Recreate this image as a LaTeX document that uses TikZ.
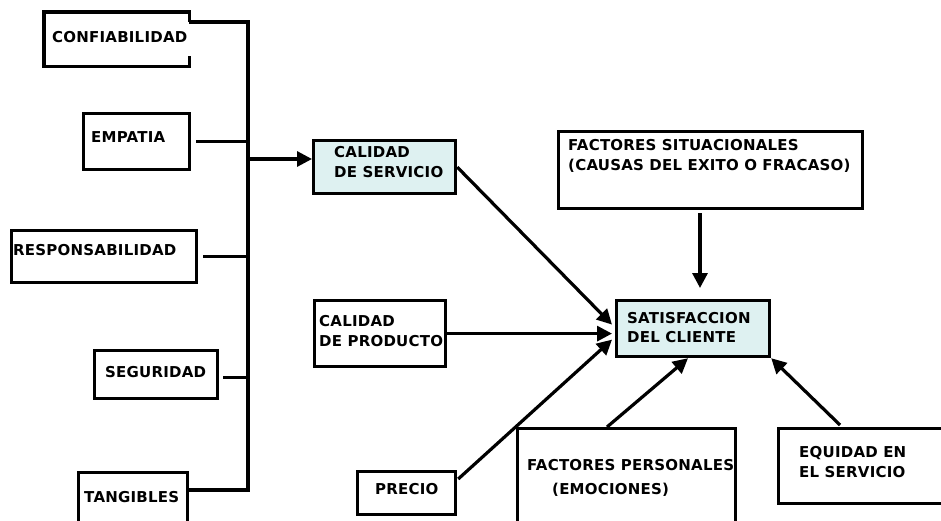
\documentclass[tikz,border=0pt]{standalone}
\usepackage{fontspec}
\newfontfamily\dfont{DejaVu Sans}[LetterSpace=1.5]
\usetikzlibrary{arrows.meta,calc}
\definecolor{tintc}{RGB}{222,241,241}
\begin{document}
\begin{tikzpicture}[x=1pt,y=-1pt,
  boxline/.style={line width=3.2pt, draw=black},
  box/.style={boxline, rectangle, anchor=north west, inner sep=0pt},
  lbl/.style={font=\dfont\bfseries\fontsize{15}{19.5}\selectfont, align=left, inner sep=0pt, anchor=west, text=black},
  conn/.style={line width=3.2pt},
  arr/.style={conn, -{Triangle[length=15pt,width=15pt]}},
  tint/.style={fill=tintc}]
\useasboundingbox (0,0) rectangle (941,521);
% left boxes
\node[box, draw=none, minimum width=142pt, minimum height=51pt] (conf) at (44,12) {};
\draw[boxline] ($(conf.north east)+(0,10)$) -- (conf.north east) -- (conf.north west) -- (conf.south west) -- (conf.south east) -- ++(0,-10);
\node[box, minimum width=106pt, minimum height=56pt] (emp) at (82,112) {};
\node[box, minimum width=185pt, minimum height=52pt] (resp) at (10,229) {};
\node[box, minimum width=123pt, minimum height=48pt] (seg) at (93,349) {};
\node[box, minimum width=109pt, minimum height=70pt] (tang) at (77,471) {};
% middle boxes
\node[box, tint, minimum width=142pt, minimum height=53pt] (serv) at (312,139) {};
\node[box, minimum width=131pt, minimum height=66pt] (prod) at (313,299) {};
\node[box, minimum width=98pt, minimum height=43pt] (price) at (356,470) {};
% right boxes
\node[box, tint, minimum width=153pt, minimum height=56pt] (sat) at (615,299) {};
\node[box, minimum width=304pt, minimum height=77pt] (fs) at (557,130) {};
\node[box, minimum width=218pt, minimum height=110pt] (fp) at (516,427) {};
\node[box, minimum width=180pt, minimum height=75pt] (eq) at (777,427) {};
% texts
\node[lbl] (conft) at (52,37) {CONFIABILIDAD};
\node[lbl] (empt) at (91,137) {EMPATIA};
\node[lbl] (respt) at (13,250) {RESPONSABILIDAD};
\node[lbl] (segt) at (105,372) {SEGURIDAD};
\node[lbl] (tangt) at (84,497) {TANGIBLES};
\node[lbl] (servt) at (334,162) {CALIDAD\\DE SERVICIO};
\node[lbl] (prodt) at (319,331) {CALIDAD\\DE PRODUCTO};
\node[lbl] (pricet) at (375,489) {PRECIO};
\node[lbl] (satt) at (627,327.5) {SATISFACCION\\DEL CLIENTE};
\node[lbl] (fst) at (568,156) {FACTORES SITUACIONALES\\(CAUSAS DEL EXITO O FRACASO)};
\node[lbl] (fpt) at (527,478) {FACTORES PERSONALES\\[5pt]\hspace*{25pt}(EMOCIONES)};
\node[lbl] (eqt) at (799,462) {EQUIDAD EN\\EL SERVICIO};
% bus
\coordinate (bt) at (248,22);
\coordinate (bb) at (248,490);
\coordinate (bm) at (248,159);
\draw[conn] ($(conf.north east)+(0,10)$) -- (bt) -- (bb) -- (bb -| tang.east);
\draw[conn, shorten <=5pt] (emp.east) -- (emp.east -| bt);
\draw[conn, shorten <=5pt] (resp.east) -- (resp.east -| bt);
\draw[conn, shorten <=4pt] ($(seg.east)+(0,3)$) -- ($(seg.east -| bt)+(0,3)$);
\draw[arr] (bm) -- (bm -| serv.west);
% arrows into satisfaction
\draw[arr] (serv.east) -- ($(sat.west)+(-3,-4)$);
\draw[arr] (prod.east) -- ($(prod.east -| sat.west)+(-3,0)$);
\draw[arr] ($(price.north east)+(1,9)$) -- ($(sat.west)+(-3,11)$);
\coordinate (fsa) at ($(fs.south west)+(143,3)$);
\draw[arr, shorten >=11pt] (fsa) -- (fsa |- sat.north);
\draw[arr] ($(fp.north west)+(91,0)$) -- ($(sat.south west)+(73,0)$);
\draw[arr] ($(eq.north west)+(63,-2)$) -- (sat.south east);
\end{tikzpicture}
\end{document}
